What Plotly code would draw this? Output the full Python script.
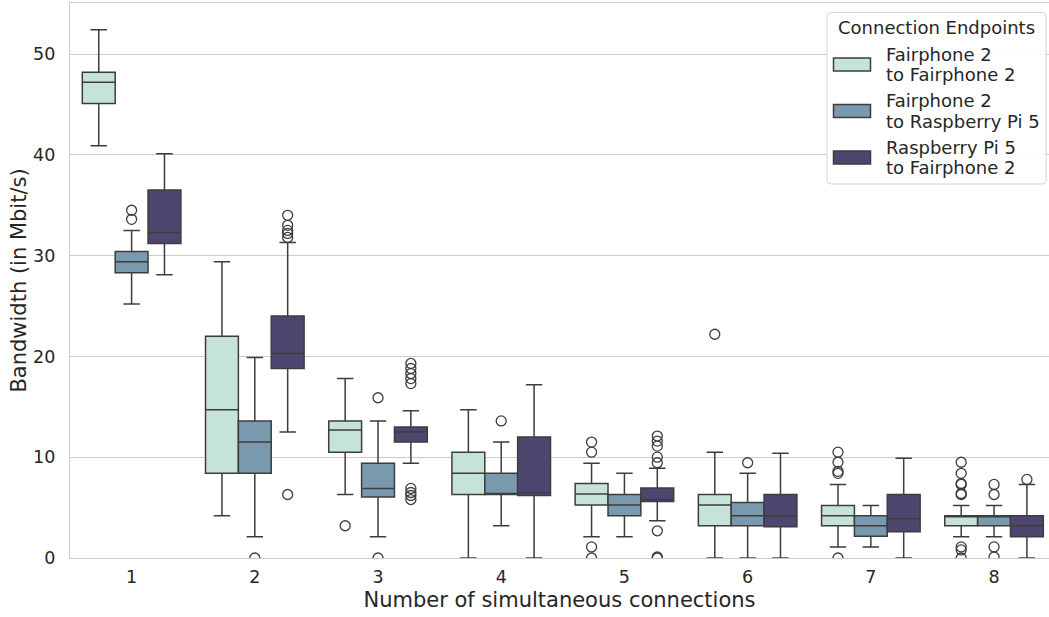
import plotly.graph_objects as go

# Number of simultaneous connections (x categories)
connections = [1, 2, 3, 4, 5, 6, 7, 8]

series_names = [
    ["Fairphone 2", "to Fairphone 2"],
    ["Fairphone 2", "to Raspberry Pi 5"],
    ["Raspberry Pi 5", "to Fairphone 2"],
]
series_colors = ["#c6e3d9", "#7899ae", "#4f466f"]
legend_title = "Connection Endpoints"

# Box statistics (Mbit/s) per series, one value per connection count
f2_f2_low = [40.9, 4.2, 6.3, 0.0, 2.1, 0.0, 1.1, 2.1]
f2_f2_q1 = [45.1, 8.4, 10.5, 6.3, 5.25, 3.2, 3.2, 3.2]
f2_f2_med = [47.2, 14.7, 12.7, 8.4, 6.35, 5.25, 4.2, 4.2]
f2_f2_q3 = [48.2, 22.0, 13.6, 10.5, 7.4, 6.3, 5.2, 4.2]
f2_f2_high = [52.4, 29.4, 17.8, 14.7, 9.4, 10.5, 7.3, 5.2]
f2_f2_out = [[], [], [3.2], [], [11.5, 10.5, 1.1, 0.0], [22.2],
             [10.5, 9.5, 8.6, 8.4, 0.0],
             [9.5, 8.4, 7.4, 7.3, 6.4, 6.3, 1.1, 0.8, 0.0]]

f2_rpi_low = [25.2, 2.1, 2.1, 3.2, 2.1, 0.0, 1.1, 2.1]
f2_rpi_q1 = [28.3, 8.4, 6.05, 6.3, 4.2, 3.2, 2.15, 3.2]
f2_rpi_med = [29.4, 11.5, 6.9, 6.3, 5.25, 4.2, 3.2, 4.2]
f2_rpi_q3 = [30.4, 13.6, 9.4, 8.4, 6.3, 5.5, 4.2, 4.2]
f2_rpi_high = [32.5, 19.9, 13.6, 11.5, 8.4, 8.4, 5.2, 5.2]
f2_rpi_out = [[34.5, 33.6], [0.0], [15.9, 0.0], [13.6], [], [9.45], [],
              [7.3, 6.3, 1.1, 0.1]]

rpi_f2_low = [28.1, 12.5, 9.4, 0.0, 3.7, 0.0, 0.0, 0.0]
rpi_f2_q1 = [31.2, 18.8, 11.5, 6.2, 5.6, 3.1, 2.6, 2.1]
rpi_f2_med = [32.3, 20.3, 12.5, 6.5, 5.8, 4.2, 3.9, 3.2]
rpi_f2_q3 = [36.5, 24.0, 13.0, 12.0, 6.95, 6.3, 6.3, 4.2]
rpi_f2_high = [40.1, 31.3, 14.6, 17.2, 8.9, 10.4, 9.9, 7.3]
rpi_f2_out = [[], [34.0, 33.0, 32.5, 32.2, 31.8, 6.3],
              [19.3, 18.8, 18.3, 17.8, 17.3, 6.9, 6.5, 6.2, 5.8], [],
              [12.1, 11.6, 11.1, 10.0, 9.45, 2.7, 0.1, 0.0], [], [], [7.8]]

stats = [
    (f2_f2_low, f2_f2_q1, f2_f2_med, f2_f2_q3, f2_f2_high, f2_f2_out),
    (f2_rpi_low, f2_rpi_q1, f2_rpi_med, f2_rpi_q3, f2_rpi_high, f2_rpi_out),
    (rpi_f2_low, rpi_f2_q1, rpi_f2_med, rpi_f2_q3, rpi_f2_high, rpi_f2_out),
]

EDGE = "#3d3d3d"
TEXT = "#262626"
GRID = "#cccccc"
FONT = "DejaVu Sans"
GROUP_WIDTH = 0.8
n_series = len(series_names)
box_w = GROUP_WIDTH / n_series

W, H = 1049, 617
M_L, M_R, M_T, M_B = 70, 0, 3, 59
PLOT_W = W - M_L - M_R
PLOT_H = H - M_T - M_B


def px_x(px):
    """Pixel column -> paper x."""
    return (px - M_L) / PLOT_W


def px_y(py):
    """Pixel row (from top) -> paper y."""
    return (H - M_B - py) / PLOT_H


fig = go.Figure()

for i, (name, color, (lo, q1, med, q3, hi, out)) in enumerate(
        zip(series_names, series_colors, stats)):
    fig.add_trace(go.Box(
        x=connections, q1=q1, median=med, q3=q3,
        lowerfence=lo, upperfence=hi,
        name=" ".join(name), fillcolor=color,
        line=dict(color=EDGE, width=1.5),
        whiskerwidth=0.5, boxpoints=False,
        offsetgroup=str(i), showlegend=False,
    ))
    # fliers placed at the centre of this series' box within each group
    offset = (i - (n_series - 1) / 2) * box_w
    xs, ys = [], []
    for c, vals in zip(connections, out):
        for v in vals:
            xs.append(c + offset)
            ys.append(v)
    fig.add_trace(go.Scatter(
        x=xs, y=ys, mode="markers", showlegend=False,
        marker=dict(symbol="circle-open", size=10,
                    line=dict(color=EDGE, width=1.3), color=EDGE),
        hoverinfo="y",
    ))

# Legend panel drawn with shapes and annotations (matplotlib-style layout)
lx0, lx1, ly0, ly1, r = 827, 1046, 12.5, 184, 4
path = (f"M {px_x(lx0 + r)},{px_y(ly0)} L {px_x(lx1 - r)},{px_y(ly0)} "
        f"Q {px_x(lx1)},{px_y(ly0)} {px_x(lx1)},{px_y(ly0 + r)} "
        f"L {px_x(lx1)},{px_y(ly1 - r)} "
        f"Q {px_x(lx1)},{px_y(ly1)} {px_x(lx1 - r)},{px_y(ly1)} "
        f"L {px_x(lx0 + r)},{px_y(ly1)} "
        f"Q {px_x(lx0)},{px_y(ly1)} {px_x(lx0)},{px_y(ly1 - r)} "
        f"L {px_x(lx0)},{px_y(ly0 + r)} "
        f"Q {px_x(lx0)},{px_y(ly0)} {px_x(lx0 + r)},{px_y(ly0)} Z")
fig.add_shape(type="path", path=path, xref="paper", yref="paper",
              fillcolor="rgba(255,255,255,0.9)",
              line=dict(color="#d6d6d6", width=1), layer="above")
fig.add_annotation(text=legend_title, xref="paper", yref="paper",
                   x=px_x(936), y=px_y(27.5), xanchor="center",
                   yanchor="middle", showarrow=False,
                   font=dict(family=FONT, size=18, color=TEXT))
item_top, item_step, line_step = 54.5, 46.5, 20
for i, (lines, color) in enumerate(zip(series_names, series_colors)):
    y_first = item_top + i * item_step
    y_mid = y_first + line_step / 2
    fig.add_shape(type="rect", xref="paper", yref="paper",
                  x0=px_x(833.5), x1=px_x(870.5),
                  y0=px_y(y_mid - 6.5), y1=px_y(y_mid + 6.5),
                  fillcolor=color, line=dict(color=EDGE, width=1.5),
                  layer="above")
    for k, line in enumerate(lines):
        fig.add_annotation(text=line, xref="paper", yref="paper",
                           x=px_x(884), y=px_y(y_first + k * line_step),
                           xanchor="left", yanchor="middle", showarrow=False,
                           font=dict(family=FONT, size=18, color=TEXT))

fig.update_layout(
    width=W, height=H,
    margin=dict(l=M_L, r=M_R, t=M_T, b=M_B),
    paper_bgcolor="white", plot_bgcolor="white",
    boxmode="group", boxgap=1 - GROUP_WIDTH, boxgroupgap=0,
    font=dict(family=FONT, color=TEXT, size=17.5),
    showlegend=False,
)

fig.update_xaxes(
    range=[0.5, 8.446], tickvals=connections,
    title=dict(text="Number of simultaneous connections",
               font=dict(size=21, color=TEXT), standoff=6),
    showgrid=False, showline=True, linecolor=GRID, linewidth=1.2,
    mirror=True, ticks="", ticklabelstandoff=3, zeroline=False,
)
fig.update_yaxes(
    range=[0, 55.06], tickvals=[0, 10, 20, 30, 40, 50],
    title=dict(text="Bandwidth (in Mbit/s)",
               font=dict(size=21, color=TEXT), standoff=0),
    showgrid=True, gridcolor=GRID, gridwidth=1,
    showline=True, linecolor=GRID, linewidth=1.2, mirror=True,
    ticks="", ticklabelstandoff=10, zeroline=False,
)

fig.write_html("out.html")
